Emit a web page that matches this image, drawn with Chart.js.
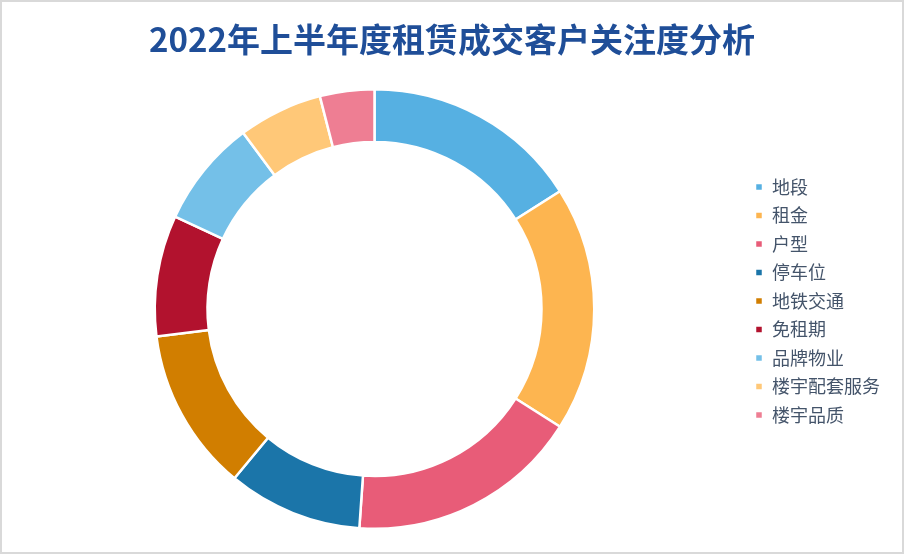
<!DOCTYPE html>
<html>
<head>
<meta charset="utf-8">
<script src="https://cdn.jsdelivr.net/npm/chart.js@4"></script>
<style>
  html, body { margin: 0; padding: 0; background: #fff; }
  #wrap {
    position: relative;
    width: 904px; height: 554px;
    box-sizing: border-box;
    border: 2px solid #d9d9d9;
    background: #fff;
  }
  #title {
    position: absolute; left: 0; right: 0; top: 14px;
    text-align: center;
    font-family: "Noto Sans CJK SC", sans-serif;
    font-weight: bold; font-size: 33px;
    color: #1f4e98;
    line-height: 44px;
  }
  #chart { position: absolute; left: 0; top: 0; }
</style>
</head>
<body>
<div id="wrap">
  <canvas id="chart" width="900" height="550"></canvas>
  <div id="title">2022年上半年度租赁成交客户关注度分析</div>
</div>
<script>
//---------------------------------------------
// DATA
//---------------------------------------------
const categories = ["地段", "租金", "户型", "停车位", "地铁交通", "免租期", "品牌物业", "楼宇配套服务", "楼宇品质"];
const shares = [16.0, 18.0, 17.1, 9.9, 12.0, 8.9, 7.9, 6.2, 4.0];
const sliceColors = ["#56b0e2", "#fdb550", "#e85c78", "#1b75a9", "#d17e00", "#b2122e", "#74c0e8", "#ffc878", "#ee7e93"];

//---------------------------------------------
// nudge the legend a little higher than the chart area centre
//---------------------------------------------
const legendNudge = {
    id: "legendNudge",
    afterLayout(chart) {
        chart.legend.top -= 8;
        chart.legend.bottom -= 8;
    }
};

//---------------------------------------------
// RENDER DOUGHNUT
//---------------------------------------------
const ctx = document.getElementById("chart").getContext("2d");
new Chart(ctx, {
    type: "doughnut",
    data: {
        labels: categories,
        datasets: [{
            data: shares,
            backgroundColor: sliceColors,
            borderColor: "#ffffff",
            borderWidth: 2.5
        }]
    },
    options: {
        responsive: false,
        animation: false,
        cutout: "76%",
        layout: { padding: { top: 86, bottom: 22, left: 2.5, right: 12 } },
        plugins: {
            title: { display: false },
            tooltip: { enabled: false },
            legend: {
                position: "right",
                fullSize: false,
                labels: {
                    boxWidth: 8,
                    boxHeight: 8,
                    padding: 10.5,
                    color: "#44546a",
                    font: { family: "'Noto Sans CJK SC', sans-serif", size: 18 }
                }
            }
        }
    },
    plugins: [legendNudge]
});
</script>
</body>
</html>
